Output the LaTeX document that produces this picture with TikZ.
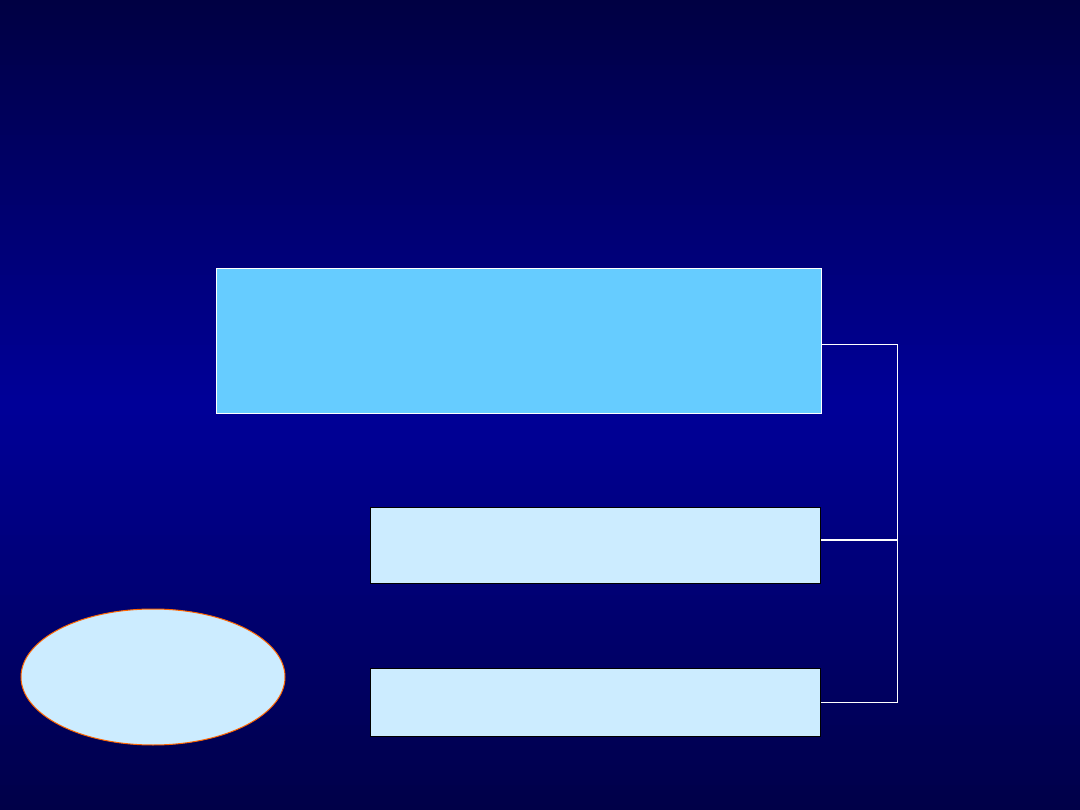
\documentclass[tikz,border=0pt]{standalone}
\usetikzlibrary{shapes.geometric}
\definecolor{bgtop}{RGB}{0,0,66}
\definecolor{bgmid}{RGB}{0,0,153}
\definecolor{bgbot}{RGB}{0,0,72}
\definecolor{bigfill}{RGB}{102,204,255}
\definecolor{palefill}{RGB}{204,236,255}
\definecolor{orangeline}{RGB}{255,102,0}
\begin{document}
\begin{tikzpicture}[x=1pt,y=-1pt,
  bigbox/.style={rectangle,draw=white,line width=1pt,fill=bigfill,inner sep=0pt,anchor=north west},
  palebox/.style={rectangle,draw=black,line width=1.2pt,fill=palefill,inner sep=0pt,anchor=north west},
  link/.style={draw=white,line width=1pt}]
\useasboundingbox (0,0) rectangle (1080,810);
\foreach \i in {0,...,161}{
  \pgfmathsetmacro{\ya}{\i*5}
  \pgfmathsetmacro{\yb}{\i*5+5.6}
  \pgfmathsetmacro{\p}{100*(1-abs(\i*5+2.5-405)/405)}
  \ifnum\i<81
    \fill[bgmid!\p!bgtop] (0,\ya) rectangle (1080,\yb);
  \else
    \fill[bgmid!\p!bgbot] (0,\ya) rectangle (1080,\yb);
  \fi
}
\node[bigbox,minimum width=605pt,minimum height=145pt] (big) at (216,268) {};
\node[palebox,minimum width=450pt,minimum height=76pt] (b2) at (370,507) {};
\node[palebox,minimum width=450pt,minimum height=68pt] (b3) at (370,668) {};
\node[ellipse,draw=orangeline,line width=1pt,fill=palefill,minimum width=264pt,minimum height=136pt,inner sep=0pt] (ell) at (153,677) {};
\coordinate (bus) at (897,345);
\coordinate (j2) at (897,540);
\draw[link] (big.east |- bus) -- (bus) |- (b3.east);
\draw[link,line width=2pt] (j2 -| b2.east) -- (j2);
\end{tikzpicture}
\end{document}
